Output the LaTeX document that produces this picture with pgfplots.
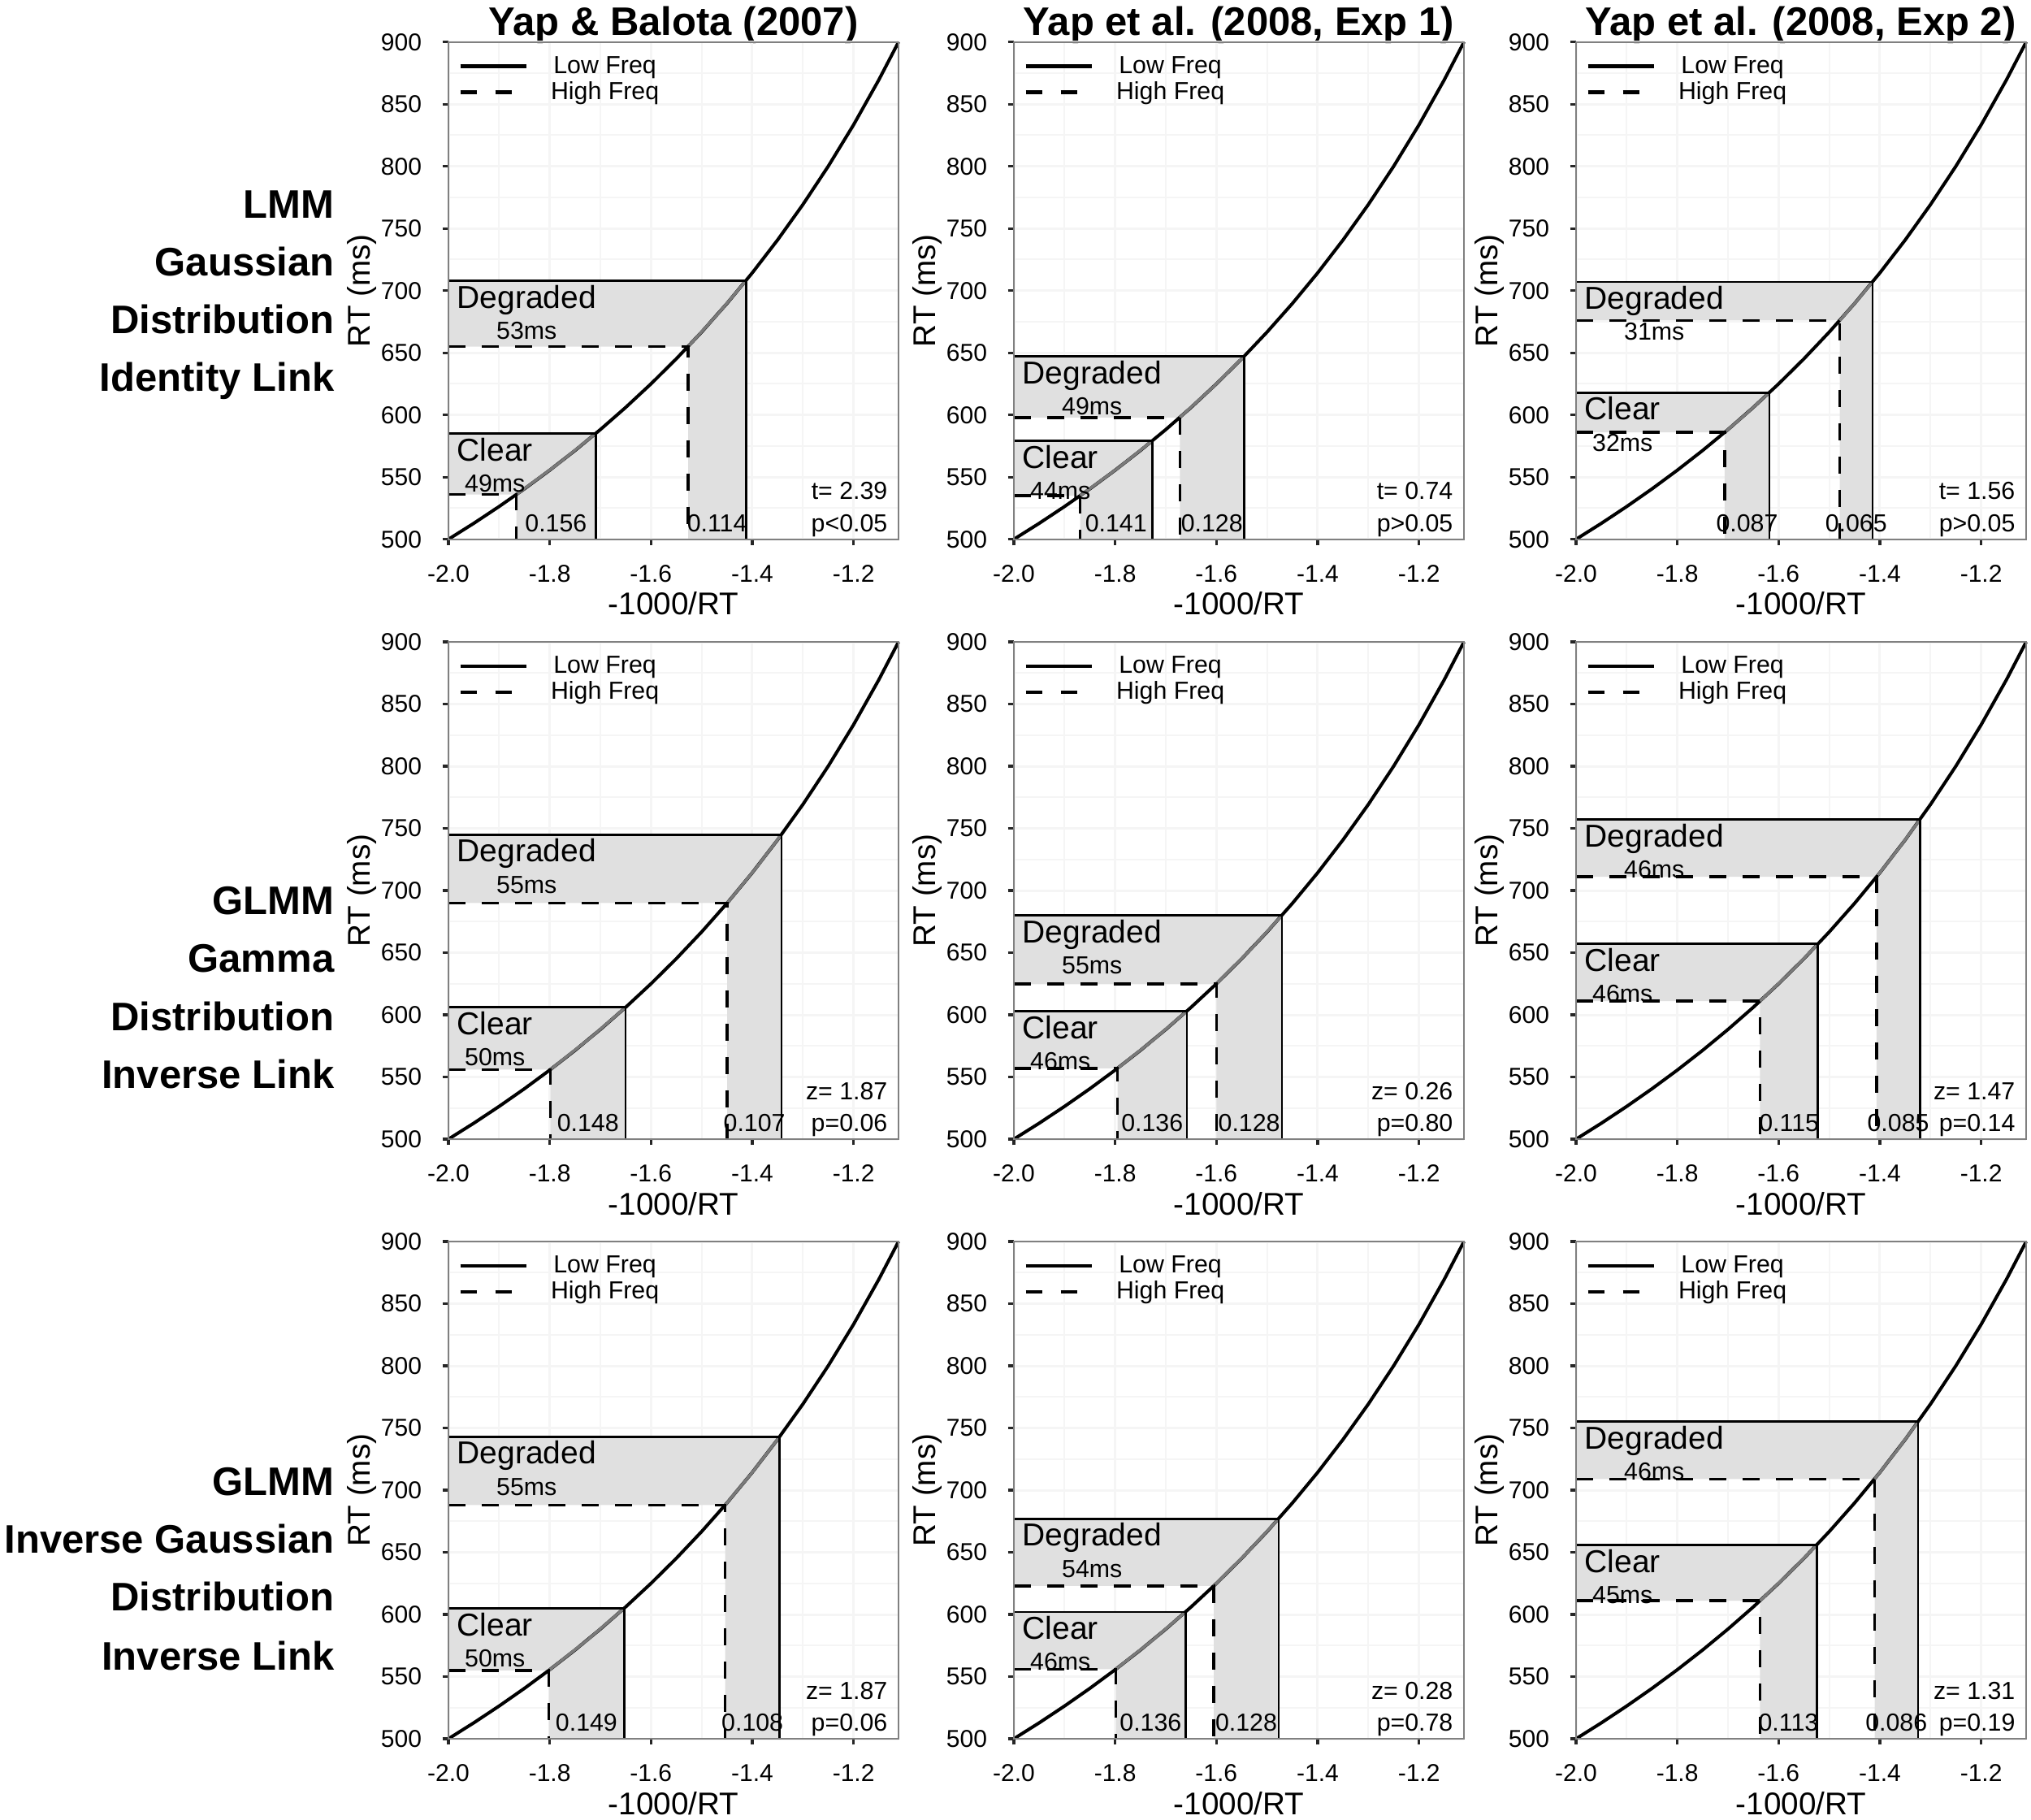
\documentclass[border=0pt]{standalone}
\usepackage{fontspec}
\setmainfont{Liberation Sans}
\usepackage{pgfplots}
\usepackage{pgfplotstable}
\pgfplotsset{compat=1.18}

\definecolor{framegray}{rgb}{0.5,0.5,0.5}
\definecolor{gridgray}{rgb}{0.962,0.962,0.962}
\definecolor{fillgray}{rgb}{0.88,0.88,0.88}
\definecolor{curvegray}{rgb}{0.48,0.48,0.48}
\definecolor{tickgray}{rgb}{0.15,0.15,0.15}

\newcommand\tickfont{\fontsize{9}{10}\selectfont}
\newcommand\labfont{\fontsize{11.6}{13}\selectfont}
\newcommand\condfont{\fontsize{11.7}{13}\selectfont}
\newcommand\smallfont{\fontsize{9.1}{10}\selectfont}
\newcommand\titfont{\bfseries\fontsize{14.7}{17}\selectfont}

\pgfplotstableread{
x y
-2.00 500.00
-1.95 512.82
-1.90 526.32
-1.85 540.54
-1.80 555.56
-1.75 571.43
-1.70 588.24
-1.65 606.06
-1.60 625.00
-1.55 645.16
-1.50 666.67
-1.45 689.66
-1.40 714.29
-1.35 740.74
-1.30 769.23
-1.25 800.00
-1.20 833.33
-1.15 869.57
-1.1111 900.00
}\curvetab

\pgfplotsset{
 panel/.style={
  scale only axis, width=166.2pt, height=183.6pt, anchor=north west,
  xmin=-2, xmax=-1.1111, ymin=500, ymax=900, clip=false,
  xtick={-2,-1.8,-1.6,-1.4,-1.2}, xticklabels={-2.0,-1.8,-1.6,-1.4,-1.2},
  ytick={500,550,...,900},
  minor xtick={-1.9,-1.7,-1.5,-1.3},
  minor ytick={525,575,...,875},
  grid=both,
  major grid style={draw=gridgray, line width=0.9pt},
  minor grid style={draw=gridgray, line width=0.6pt},
  axis line style={draw=framegray, line width=0.7pt},
  tick pos=left, tick align=outside,
  major tick length=2.2pt, minor tick length=0pt,
  tick style={draw=tickgray, line width=1.0pt},
  /pgf/number format/assume math mode=true,
  xticklabel style={font=\tickfont, anchor=base, yshift=-13.5pt, inner sep=0pt},
  yticklabel style={font=\tickfont, anchor=east, inner sep=0pt, xshift=-7.5pt},
  xlabel={-1000/RT}, ylabel={RT (ms)},
  x label style={at={(axis description cs:0.5,-0.152)}, anchor=base, font=\labfont, inner sep=0pt},
  y label style={at={(axis description cs:-0.193,0.5)}, anchor=center, font=\labfont, inner sep=0pt},
  legend cell align=center,
  legend style={at={(0,1)}, anchor=north west, xshift=3.5pt, yshift=-4.7pt, draw=none, fill=none,
    inner sep=0pt, font=\smallfont, row sep=1.4pt, column sep=8.2pt,
    nodes={inner sep=0pt, text height=6.6pt, text depth=1.6pt}},
  legend image code/.code={\draw[##1] (0pt,0pt) -- (24.5pt,0pt);},
 },
 fillp/.style={fill=fillgray, draw=none, forget plot},
 curvep/.style={black, line width=1.2pt, forget plot},
 grayp/.style={curvegray, line width=1.05pt, forget plot},
 lowp/.style={black, line width=0.85pt, forget plot},
 highp/.style={black, line width=1.05pt, dash pattern=on 6.3pt off 6pt, forget plot},
}

\newcommand\leg{\addlegendimage{black, line width=1.4pt}\addlegendentry{Low Freq}
\addlegendimage{black, line width=1.4pt, dash pattern=on 6pt off 6.9pt}\addlegendentry{High Freq}}
\newcommand\cond[3]{\node[font=\condfont, anchor=base west, inner sep=0pt] (cl) at ([xshift=3pt,yshift=-10.1pt]axis cs:-2,#1) {#2};
\node[font=\smallfont, anchor=base, inner sep=0pt] at ([yshift=-11.5pt]cl.base) {#3};}
\newcommand\val[2]{\node[font=\smallfont, anchor=base, inner sep=0pt] at (axis cs:#1,506) {#2};}
\newcommand\stats[2]{\node[font=\smallfont, anchor=base east, inner sep=0pt] at ([xshift=-3.9pt]axis cs:-1.1111,532) {#1};
\node[font=\smallfont, anchor=base east, inner sep=0pt] at ([xshift=-3.9pt]axis cs:-1.1111,506) {#2};}
\newcommand\frm{\draw[framegray, line width=0.7pt] (rel axis cs:0,0) rectangle (rel axis cs:1,1);}

\begin{document}
\begin{tikzpicture}
\path[use as bounding box] (0,0) rectangle (750pt,-672pt);

% ---------- titles ----------
\node[font=\titfont, anchor=base] at (248.7pt,-12.9pt) {Yap \& Balota (2007)};
\node[font=\titfont, anchor=base] at (457.5pt,-12.9pt) {Yap et al. (2008, Exp 1)};
\node[font=\titfont, anchor=base] at (664.9pt,-12.9pt) {Yap et al. (2008, Exp 2)};

% ---------- row labels ----------
\begin{scope}[every node/.style={font=\titfont, anchor=base east, inner sep=0pt}]
\node at (123.6pt,-80.5pt) {LMM};
\node at (123.6pt,-101.7pt) {Gaussian};
\node at (123.6pt,-123.0pt) {Distribution};
\node at (123.6pt,-144.5pt) {Identity Link};
\node at (123.6pt,-337.5pt) {GLMM};
\node at (123.6pt,-358.8pt) {Gamma};
\node at (123.6pt,-380.5pt) {Distribution};
\node at (123.6pt,-401.8pt) {Inverse Link};
\node at (123.6pt,-552.0pt) {GLMM};
\node at (123.6pt,-573.5pt) {Inverse Gaussian};
\node at (123.6pt,-594.8pt) {Distribution};
\node at (123.6pt,-616.5pt) {Inverse Link};
\end{scope}

% ================= Row 1 =================
\begin{axis}[panel, at={(165.6pt,-15.51pt)}]
\leg
\addplot[fillp] coordinates {(-2,708) (-1.4124,708) (-1.4124,500) (-1.5267,500) (-1.5267,655) (-2,655)};
\addplot[fillp] coordinates {(-2,585) (-1.7094,585) (-1.7094,500) (-1.8657,500) (-1.8657,536) (-2,536)};
\addplot[curvep] table {\curvetab};
\addplot[grayp] coordinates {(-1.5267,655) (-1.4674,681.5) (-1.4124,708)};
\addplot[grayp] coordinates {(-1.8657,536) (-1.7841,560.5) (-1.7094,585)};
\addplot[lowp] coordinates {(-2,708) (-1.4124,708) (-1.4124,500)};
\addplot[lowp] coordinates {(-2,585) (-1.7094,585) (-1.7094,500)};
\addplot[highp] coordinates {(-2,655) (-1.5267,655) (-1.5267,500)};
\addplot[highp] coordinates {(-2,536) (-1.8657,536) (-1.8657,500)};
\cond{708}{Degraded}{53ms}
\cond{585}{Clear}{49ms}
\val{-1.7876}{0.156}
\val{-1.4696}{0.114}
\stats{t= 2.39}{p<0.05}
\frm
\end{axis}

\begin{axis}[panel, at={(374.4pt,-15.51pt)}]
\leg
\addplot[fillp] coordinates {(-2,647) (-1.5456,647) (-1.5456,500) (-1.6722,500) (-1.6722,598) (-2,598)};
\addplot[fillp] coordinates {(-2,579) (-1.7271,579) (-1.7271,500) (-1.8692,500) (-1.8692,535) (-2,535)};
\addplot[curvep] table {\curvetab};
\addplot[grayp] coordinates {(-1.6722,598) (-1.6064,622.5) (-1.5456,647)};
\addplot[grayp] coordinates {(-1.8692,535) (-1.7953,557) (-1.7271,579)};
\addplot[lowp] coordinates {(-2,647) (-1.5456,647) (-1.5456,500)};
\addplot[lowp] coordinates {(-2,579) (-1.7271,579) (-1.7271,500)};
\addplot[highp] coordinates {(-2,598) (-1.6722,598) (-1.6722,500)};
\addplot[highp] coordinates {(-2,535) (-1.8692,535) (-1.8692,500)};
\cond{647}{Degraded}{49ms}
\cond{579}{Clear}{44ms}
\val{-1.7982}{0.141}
\val{-1.6089}{0.128}
\stats{t= 0.74}{p>0.05}
\frm
\end{axis}

\begin{axis}[panel, at={(582pt,-15.51pt)}]
\leg
\addplot[fillp] coordinates {(-2,707) (-1.4144,707) (-1.4144,500) (-1.4793,500) (-1.4793,676) (-2,676)};
\addplot[fillp] coordinates {(-2,618) (-1.6181,618) (-1.6181,500) (-1.7065,500) (-1.7065,586) (-2,586)};
\addplot[curvep] table {\curvetab};
\addplot[grayp] coordinates {(-1.4793,676) (-1.4461,691.5) (-1.4144,707)};
\addplot[grayp] coordinates {(-1.7065,586) (-1.6611,602) (-1.6181,618)};
\addplot[lowp] coordinates {(-2,707) (-1.4144,707) (-1.4144,500)};
\addplot[lowp] coordinates {(-2,618) (-1.6181,618) (-1.6181,500)};
\addplot[highp] coordinates {(-2,676) (-1.4793,676) (-1.4793,500)};
\addplot[highp] coordinates {(-2,586) (-1.7065,586) (-1.7065,500)};
\cond{707}{Degraded}{31ms}
\cond{618}{Clear}{32ms}
\val{-1.6623}{0.087}
\val{-1.4469}{0.065}
\stats{t= 1.56}{p>0.05}
\frm
\end{axis}

% ================= Row 2 =================
\begin{axis}[panel, at={(165.6pt,-237pt)}]
\leg
\addplot[fillp] coordinates {(-2,745) (-1.3423,745) (-1.3423,500) (-1.4493,500) (-1.4493,690) (-2,690)};
\addplot[fillp] coordinates {(-2,606) (-1.6502,606) (-1.6502,500) (-1.7986,500) (-1.7986,556) (-2,556)};
\addplot[curvep] table {\curvetab};
\addplot[grayp] coordinates {(-1.4493,690) (-1.3937,717.5) (-1.3423,745)};
\addplot[grayp] coordinates {(-1.7986,556) (-1.7212,581) (-1.6502,606)};
\addplot[lowp] coordinates {(-2,745) (-1.3423,745) (-1.3423,500)};
\addplot[lowp] coordinates {(-2,606) (-1.6502,606) (-1.6502,500)};
\addplot[highp] coordinates {(-2,690) (-1.4493,690) (-1.4493,500)};
\addplot[highp] coordinates {(-2,556) (-1.7986,556) (-1.7986,500)};
\cond{745}{Degraded}{55ms}
\cond{606}{Clear}{50ms}
\val{-1.7244}{0.148}
\val{-1.3958}{0.107}
\stats{z= 1.87}{p=0.06}
\frm
\end{axis}

\begin{axis}[panel, at={(374.4pt,-237pt)}]
\leg
\addplot[fillp] coordinates {(-2,680) (-1.4706,680) (-1.4706,500) (-1.6000,500) (-1.6000,625) (-2,625)};
\addplot[fillp] coordinates {(-2,603) (-1.6584,603) (-1.6584,500) (-1.7953,500) (-1.7953,557) (-2,557)};
\addplot[curvep] table {\curvetab};
\addplot[grayp] coordinates {(-1.6000,625) (-1.5326,652.5) (-1.4706,680)};
\addplot[grayp] coordinates {(-1.7953,557) (-1.7241,580) (-1.6584,603)};
\addplot[lowp] coordinates {(-2,680) (-1.4706,680) (-1.4706,500)};
\addplot[lowp] coordinates {(-2,603) (-1.6584,603) (-1.6584,500)};
\addplot[highp] coordinates {(-2,625) (-1.6000,625) (-1.6000,500)};
\addplot[highp] coordinates {(-2,557) (-1.7953,557) (-1.7953,500)};
\cond{680}{Degraded}{55ms}
\cond{603}{Clear}{46ms}
\val{-1.7269}{0.136}
\val{-1.5353}{0.128}
\stats{z= 0.26}{p=0.80}
\frm
\end{axis}

\begin{axis}[panel, at={(582pt,-237pt)}]
\leg
\addplot[fillp] coordinates {(-2,757) (-1.3210,757) (-1.3210,500) (-1.4065,500) (-1.4065,711) (-2,711)};
\addplot[fillp] coordinates {(-2,657) (-1.5221,657) (-1.5221,500) (-1.6367,500) (-1.6367,611) (-2,611)};
\addplot[curvep] table {\curvetab};
\addplot[grayp] coordinates {(-1.4065,711) (-1.3624,734) (-1.3210,757)};
\addplot[grayp] coordinates {(-1.6367,611) (-1.5773,634) (-1.5221,657)};
\addplot[lowp] coordinates {(-2,757) (-1.3210,757) (-1.3210,500)};
\addplot[lowp] coordinates {(-2,657) (-1.5221,657) (-1.5221,500)};
\addplot[highp] coordinates {(-2,711) (-1.4065,711) (-1.4065,500)};
\addplot[highp] coordinates {(-2,611) (-1.6367,611) (-1.6367,500)};
\cond{757}{Degraded}{46ms}
\cond{657}{Clear}{46ms}
\val{-1.5794}{0.115}
\val{-1.3638}{0.085}
\stats{z= 1.47}{p=0.14}
\frm
\end{axis}

% ================= Row 3 =================
\begin{axis}[panel, at={(165.6pt,-458.4pt)}]
\leg
\addplot[fillp] coordinates {(-2,743) (-1.3459,743) (-1.3459,500) (-1.4535,500) (-1.4535,688) (-2,688)};
\addplot[fillp] coordinates {(-2,605) (-1.6529,605) (-1.6529,500) (-1.8018,500) (-1.8018,555) (-2,555)};
\addplot[curvep] table {\curvetab};
\addplot[grayp] coordinates {(-1.4535,688) (-1.3976,715.5) (-1.3459,743)};
\addplot[grayp] coordinates {(-1.8018,555) (-1.7241,580) (-1.6529,605)};
\addplot[lowp] coordinates {(-2,743) (-1.3459,743) (-1.3459,500)};
\addplot[lowp] coordinates {(-2,605) (-1.6529,605) (-1.6529,500)};
\addplot[highp] coordinates {(-2,688) (-1.4535,688) (-1.4535,500)};
\addplot[highp] coordinates {(-2,555) (-1.8018,555) (-1.8018,500)};
\cond{743}{Degraded}{55ms}
\cond{605}{Clear}{50ms}
\val{-1.7274}{0.149}
\val{-1.3997}{0.108}
\stats{z= 1.87}{p=0.06}
\frm
\end{axis}

\begin{axis}[panel, at={(374.4pt,-458.4pt)}]
\leg
\addplot[fillp] coordinates {(-2,677) (-1.4771,677) (-1.4771,500) (-1.6051,500) (-1.6051,623) (-2,623)};
\addplot[fillp] coordinates {(-2,602) (-1.6611,602) (-1.6611,500) (-1.7986,500) (-1.7986,556) (-2,556)};
\addplot[curvep] table {\curvetab};
\addplot[grayp] coordinates {(-1.6051,623) (-1.5385,650) (-1.4771,677)};
\addplot[grayp] coordinates {(-1.7986,556) (-1.7271,579) (-1.6611,602)};
\addplot[lowp] coordinates {(-2,677) (-1.4771,677) (-1.4771,500)};
\addplot[lowp] coordinates {(-2,602) (-1.6611,602) (-1.6611,500)};
\addplot[highp] coordinates {(-2,623) (-1.6051,623) (-1.6051,500)};
\addplot[highp] coordinates {(-2,556) (-1.7986,556) (-1.7986,500)};
\cond{677}{Degraded}{54ms}
\cond{602}{Clear}{46ms}
\val{-1.7299}{0.136}
\val{-1.5411}{0.128}
\stats{z= 0.28}{p=0.78}
\frm
\end{axis}

\begin{axis}[panel, at={(582pt,-458.4pt)}]
\leg
\addplot[fillp] coordinates {(-2,755) (-1.3245,755) (-1.3245,500) (-1.4104,500) (-1.4104,709) (-2,709)};
\addplot[fillp] coordinates {(-2,656) (-1.5244,656) (-1.5244,500) (-1.6367,500) (-1.6367,611) (-2,611)};
\addplot[curvep] table {\curvetab};
\addplot[grayp] coordinates {(-1.4104,709) (-1.3661,732) (-1.3245,755)};
\addplot[grayp] coordinates {(-1.6367,611) (-1.5785,633.5) (-1.5244,656)};
\addplot[lowp] coordinates {(-2,755) (-1.3245,755) (-1.3245,500)};
\addplot[lowp] coordinates {(-2,656) (-1.5244,656) (-1.5244,500)};
\addplot[highp] coordinates {(-2,709) (-1.4104,709) (-1.4104,500)};
\addplot[highp] coordinates {(-2,611) (-1.6367,611) (-1.6367,500)};
\cond{755}{Degraded}{46ms}
\cond{656}{Clear}{45ms}
\val{-1.5806}{0.113}
\val{-1.3675}{0.086}
\stats{z= 1.31}{p=0.19}
\frm
\end{axis}
\end{tikzpicture}
\end{document}
